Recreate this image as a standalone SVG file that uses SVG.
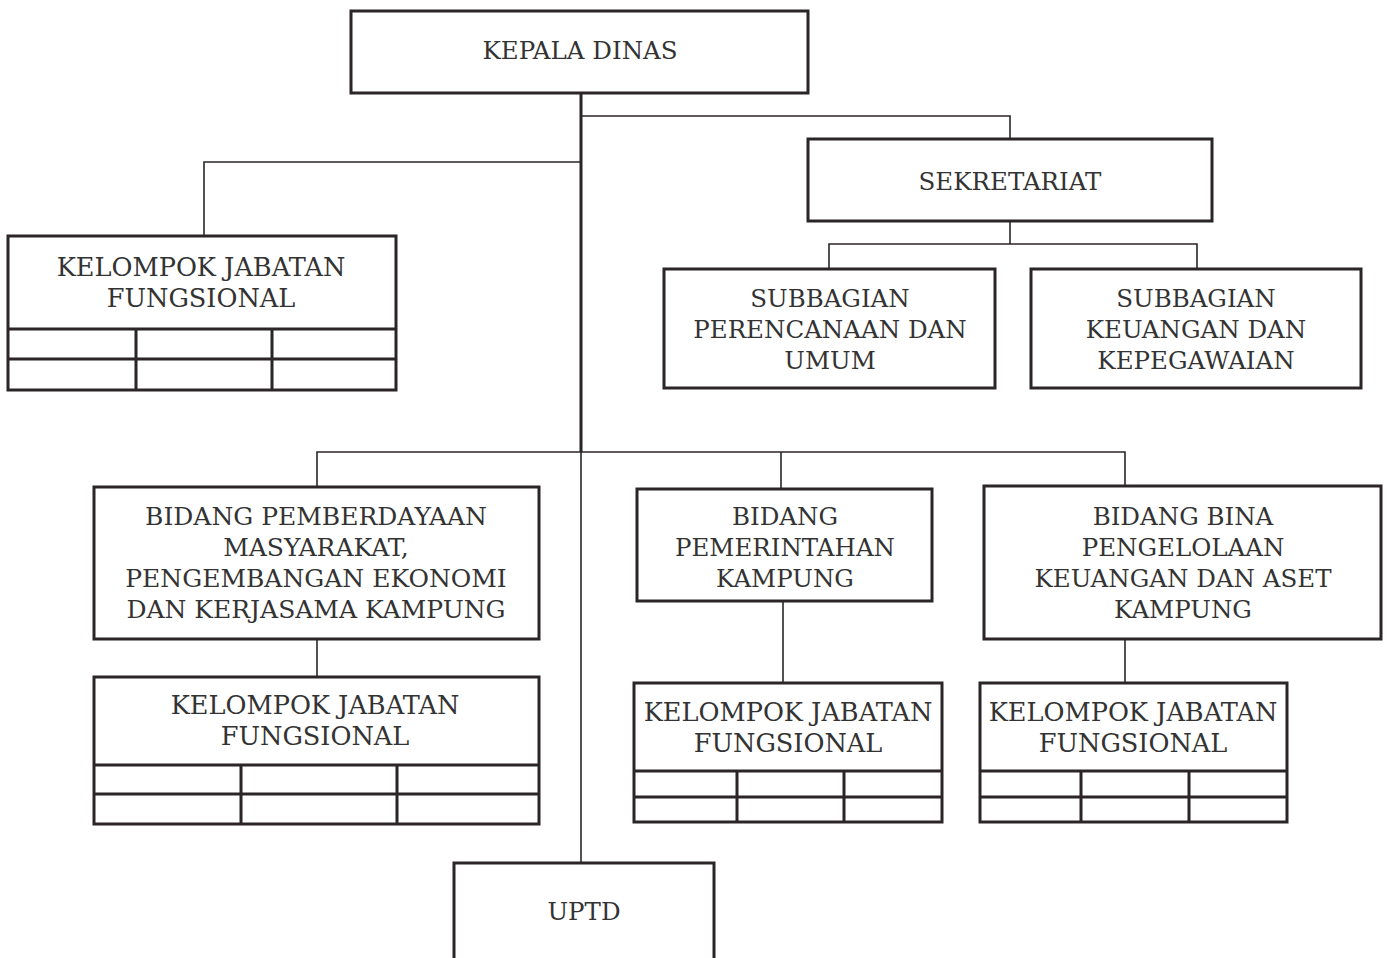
<svg xmlns="http://www.w3.org/2000/svg" width="1390" height="958" viewBox="0 0 1390 958">
<style>
.box{fill:#fff;stroke:#2b2527;stroke-width:3}
.grid{fill:none;stroke:#2b2527;stroke-width:3}
.thin{fill:none;stroke:#2b2527;stroke-width:1.6}
.thick{fill:none;stroke:#2b2527;stroke-width:3}
text{font-family:"DejaVu Serif","Liberation Serif",serif;font-size:24.5px;fill:#333;text-anchor:middle}
.kjf{font-size:25.6px}
.bp{font-size:25px}
</style>
<rect width="1390" height="958" fill="#fff"/>
<g id="connectors">
<path class="thick" d="M581 93V452"/>
<path class="thin" d="M581 452V863"/>
<path class="thin" d="M581 116H1010V139"/>
<path class="thin" d="M581 162H204V236"/>
<path class="thin" d="M1010 221V244M829 269V244H1197V269"/>
<path class="thin" d="M317 487V452H1125V486M781 452V489"/>
<path class="thin" d="M317 639V677"/>
<path class="thin" d="M783 601V683"/>
<path class="thin" d="M1125 639V683"/>
</g>
<g id="kepala-dinas">
<rect class="box" x="351" y="11" width="457" height="82"/>
<text x="580" y="59">KEPALA DINAS</text>
</g>
<g id="sekretariat">
<rect class="box" x="808" y="139" width="404" height="82"/>
<text x="1010" y="190">SEKRETARIAT</text>
</g>
<g id="kjf-dinas">
<rect class="box" x="8" y="236" width="388" height="154"/>
<path class="grid" d="M8 329H396M8 359H396M136 329V390M272 329V390"/>
<text class="kjf" x="201" y="276">KELOMPOK JABATAN</text>
<text class="kjf" x="201" y="307">FUNGSIONAL</text>
</g>
<g id="subbagian-perencanaan">
<rect class="box" x="664" y="269" width="331" height="119"/>
<text x="830" y="307">SUBBAGIAN</text>
<text x="830" y="338">PERENCANAAN DAN</text>
<text x="830" y="369">UMUM</text>
</g>
<g id="subbagian-keuangan">
<rect class="box" x="1031" y="269" width="330" height="119"/>
<text x="1196" y="307">SUBBAGIAN</text>
<text x="1196" y="338">KEUANGAN DAN</text>
<text x="1196" y="369">KEPEGAWAIAN</text>
</g>
<g id="bidang-pemberdayaan">
<rect class="box" x="94" y="487" width="445" height="152"/>
<text class="bp" x="316" y="525">BIDANG PEMBERDAYAAN</text>
<text class="bp" x="316" y="556">MASYARAKAT,</text>
<text class="bp" x="316" y="587">PENGEMBANGAN EKONOMI</text>
<text class="bp" x="316" y="618">DAN KERJASAMA KAMPUNG</text>
</g>
<g id="kjf-pemberdayaan">
<rect class="box" x="94" y="677" width="445" height="147"/>
<path class="grid" d="M94 765H539M94 794H539M241 765V824M397 765V824"/>
<text class="kjf" x="315" y="714">KELOMPOK JABATAN</text>
<text class="kjf" x="315" y="745">FUNGSIONAL</text>
</g>
<g id="bidang-pemerintahan">
<rect class="box" x="637" y="489" width="295" height="112"/>
<text x="785" y="525">BIDANG</text>
<text x="785" y="556">PEMERINTAHAN</text>
<text x="785" y="587">KAMPUNG</text>
</g>
<g id="kjf-pemerintahan">
<rect class="box" x="634" y="683" width="308" height="139"/>
<path class="grid" d="M634 771H942M634 797H942M737 771V822M844 771V822"/>
<text class="kjf" x="788" y="721">KELOMPOK JABATAN</text>
<text class="kjf" x="788" y="752">FUNGSIONAL</text>
</g>
<g id="bidang-bina">
<rect class="box" x="984" y="486" width="397" height="153"/>
<text x="1183" y="525">BIDANG BINA</text>
<text x="1183" y="556">PENGELOLAAN</text>
<text x="1183" y="587">KEUANGAN DAN ASET</text>
<text x="1183" y="618">KAMPUNG</text>
</g>
<g id="kjf-bina">
<rect class="box" x="980" y="683" width="307" height="139"/>
<path class="grid" d="M980 771H1287M980 797H1287M1081 771V822M1189 771V822"/>
<text class="kjf" x="1133" y="721">KELOMPOK JABATAN</text>
<text class="kjf" x="1133" y="752">FUNGSIONAL</text>
</g>
<g id="uptd">
<rect class="box" x="454" y="863" width="260" height="100"/>
<text x="584" y="920">UPTD</text>
</g>
</svg>
